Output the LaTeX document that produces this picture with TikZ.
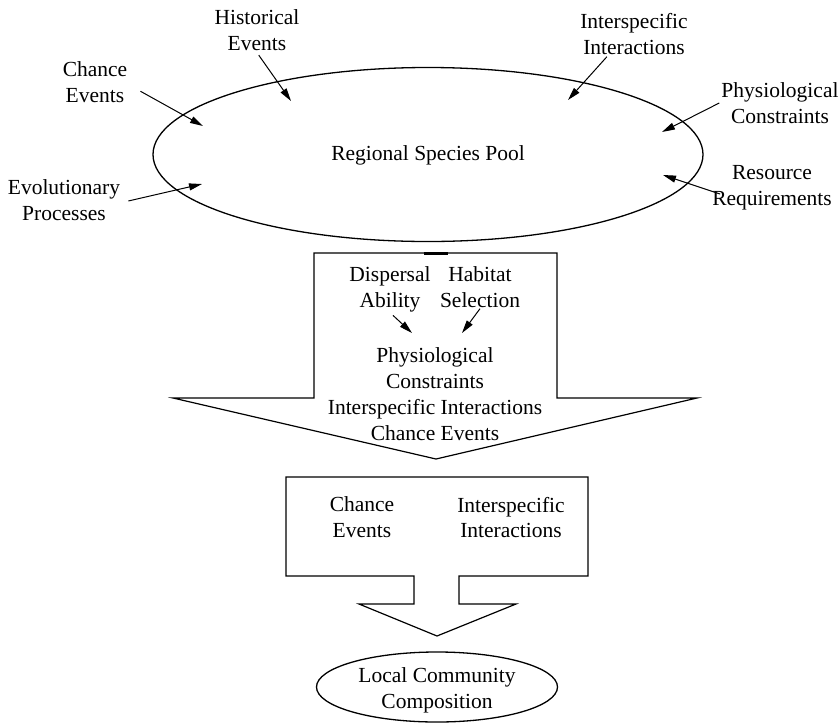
\documentclass[tikz,border=0pt]{standalone}
\usepackage{fontspec}
\setmainfont{Liberation Serif}
\usetikzlibrary{arrows.meta,shapes.geometric}
\begin{document}
\begin{tikzpicture}[x=1pt,y=-1pt,
  lbl/.style={align=center,inner sep=2pt,font=\fontsize{21.5}{25.8}\selectfont},
  ptr/.style={line width=1pt,-{Triangle[length=13pt,width=7pt]}},
  outline/.style={line width=1.2pt,line join=miter},
  oval/.style={draw,ellipse,line width=1.3pt,inner sep=0pt}]
\useasboundingbox (0,0) rectangle (839,724);

% regional species pool
\node[oval,minimum width=550,minimum height=174] (pool) at (428,154.5) {};
\node[lbl] (poolt) at (428,155) {Regional Species Pool};

% factors acting on the regional pool
\node[lbl] (hist) at (257,30) {Historical\\Events};
\node[lbl] (chance) at (95,82) {Chance\\Events};
\node[lbl] (evo) at (64,200) {Evolutionary\\Processes};
\node[lbl] (inter) at (634,34) {Interspecific\\Interactions};
\node[lbl] (phys) at (780,103) {Physiological\\Constraints};
\node[lbl] (res) at (772,188) {Resource\\Requirements};

\coordinate (tHist) at (291,101);
\coordinate (tChance) at (203,126);
\coordinate (tEvo) at (202,184);
\coordinate (tInter) at (568,100);
\coordinate (tPhys) at (662,132);
\coordinate (tRes) at (663,175);

\draw[ptr,shorten <=3pt] (hist.south) -- (tHist);
\draw[ptr] ([xshift=11pt]chance.-15) -- (tChance);
\draw[ptr] ([xshift=6pt,yshift=-1pt]evo.east) -- (tEvo);
\draw[ptr] (inter.-140) -- (tInter);
\draw[ptr] (phys.west) -- (tPhys);
\draw[ptr] ([xshift=10pt,yshift=-6pt]res.west) -- (tRes);

% first filter arrow
\draw[outline] (314,253) -- (557,253) -- (557,398) -- (697,398) -- (436,459)
  -- (173,398) -- (314,398) -- cycle;
\draw[line width=3pt] (424,253) -- (448,253);

\node[lbl] (disp) at (390,289.5) {Dispersal\\Ability};
\node[lbl] (hab) at (480,287) {Habitat\\Selection};
\node[lbl,font=\fontsize{21.5}{26}\selectfont] (mid) at (435,394)
  {Physiological\\Constraints\\Interspecific Interactions\\Chance Events};
\coordinate (tDisp) at (412,333);
\coordinate (tHab) at (462,333);
\draw[ptr] ([xshift=3pt,yshift=-1pt]disp.south) -- (tDisp);
\draw[ptr] ([yshift=1pt]hab.south) -- (tHab);

% second filter arrow
\draw[outline] (286,477) -- (588,477) -- (588,576) -- (459,576) -- (459,604)
  -- (516,604) -- (437,636) -- (359,604) -- (414,604) -- (414,576)
  -- (286,576) -- cycle;
\node[lbl] (chance2) at (362,517.5) {Chance\\Events};
\node[lbl] (inter2) at (511,517.5) {Interspecific\\Interactions};

% local community
\node[oval,minimum width=241,minimum height=70] (local) at (437,687) {};
\node[lbl] (localt) at (437,690) {Local Community\\Composition};
\end{tikzpicture}
\end{document}
